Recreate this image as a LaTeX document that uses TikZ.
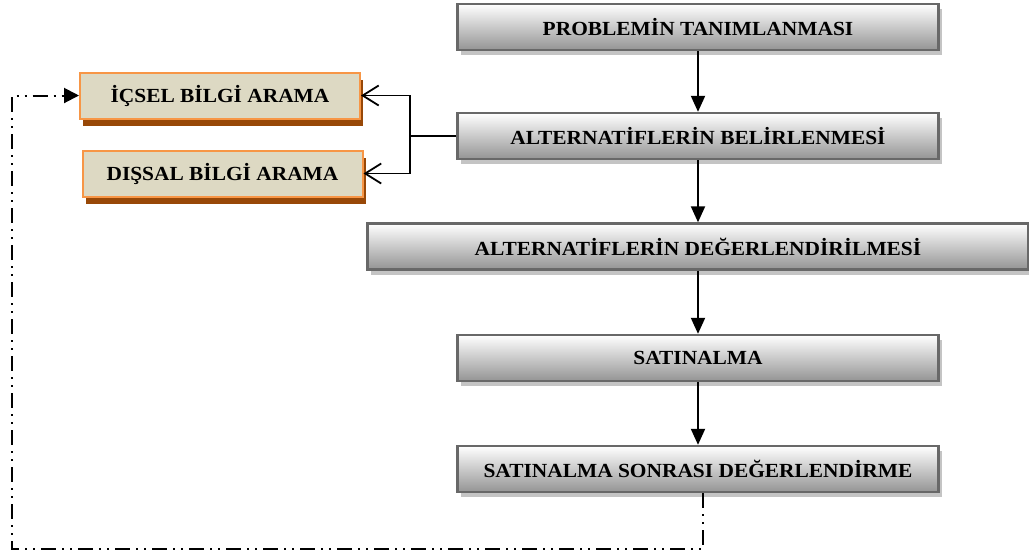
\documentclass[tikz,border=0pt]{standalone}
\usepackage{fontspec}
\setmainfont{Liberation Serif}[FakeStretch=1.07]
\usetikzlibrary{arrows.meta,shadows}
\definecolor{stageline}{HTML}{686868}
\definecolor{stageshadow}{HTML}{C4C4C4}
\definecolor{searchfill}{HTML}{DDD9C3}
\definecolor{searchline}{HTML}{F79646}
\definecolor{searchshadow}{HTML}{984807}
\tikzset{
  stage/.style={draw=stageline, line width=1.2pt, top color=white, bottom color=black!42,
    minimum width=240.5pt, minimum height=23pt, font=\fontsize{10}{12}\selectfont\bfseries,
    drop shadow={shadow xshift=1.5pt, shadow yshift=-2.5pt, fill=stageshadow, opacity=1}},
  search/.style={draw=searchline, line width=1pt, fill=searchfill,
    minimum width=140pt, minimum height=23pt, font=\fontsize{10}{12}\selectfont\bfseries,
    drop shadow={shadow xshift=1.5pt, shadow yshift=-3.5pt, fill=searchshadow, opacity=1}},
  flow/.style={line width=1pt, -{Triangle[length=8pt,width=7pt]}},
  splitarrow/.style={line width=0.9pt, -{Straight Barb[length=8pt,width=10pt]}},
  loopback/.style={line width=1pt, dash pattern=on 7.5pt off 3pt on 1pt off 3pt on 1pt off 3pt,
    -{Triangle[length=7.5pt,width=7.5pt]}}
}
\begin{document}
\begin{tikzpicture}[x=0.5pt,y=-0.5pt]
\useasboundingbox (0,0) rectangle (1029,554);

\node[stage] (prob) at (698,27) {PROBLEMİN TANIMLANMASI};
\node[stage] (altbel) at (698,136) {ALTERNATİFLERİN BELİRLENMESİ};
\node[stage, minimum width=330.5pt] (altdeg) at (698,246.5) {ALTERNATİFLERİN DEĞERLENDİRİLMESİ};
\node[stage] (satin) at (698,358) {SATINALMA};
\node[stage] (sonra) at (698,469) {SATINALMA SONRASI DEĞERLENDİRME};
\node[search] (icsel) at (220,95.5) {İÇSEL BİLGİ ARAMA};
\node[search] (dissal) at (222.5,173.5) {DIŞSAL BİLGİ ARAMA};

\draw[flow] (prob) -- (altbel);
\draw[flow] (altbel) -- (altdeg);
\draw[flow] (altdeg) -- (satin);
\draw[flow] (satin) -- (sonra);

\coordinate (split) at (410,136);
\draw[splitarrow] (altbel.west) -- (split) |- (icsel.east);
\draw[splitarrow] (split) |- (dissal.east);

\coordinate (lowR) at (703,549);
\coordinate (lowL) at (12,549);
\draw[loopback] (sonra.south -| lowR) -- (lowR) -- (lowL) |- (icsel.west);

\end{tikzpicture}
\end{document}
